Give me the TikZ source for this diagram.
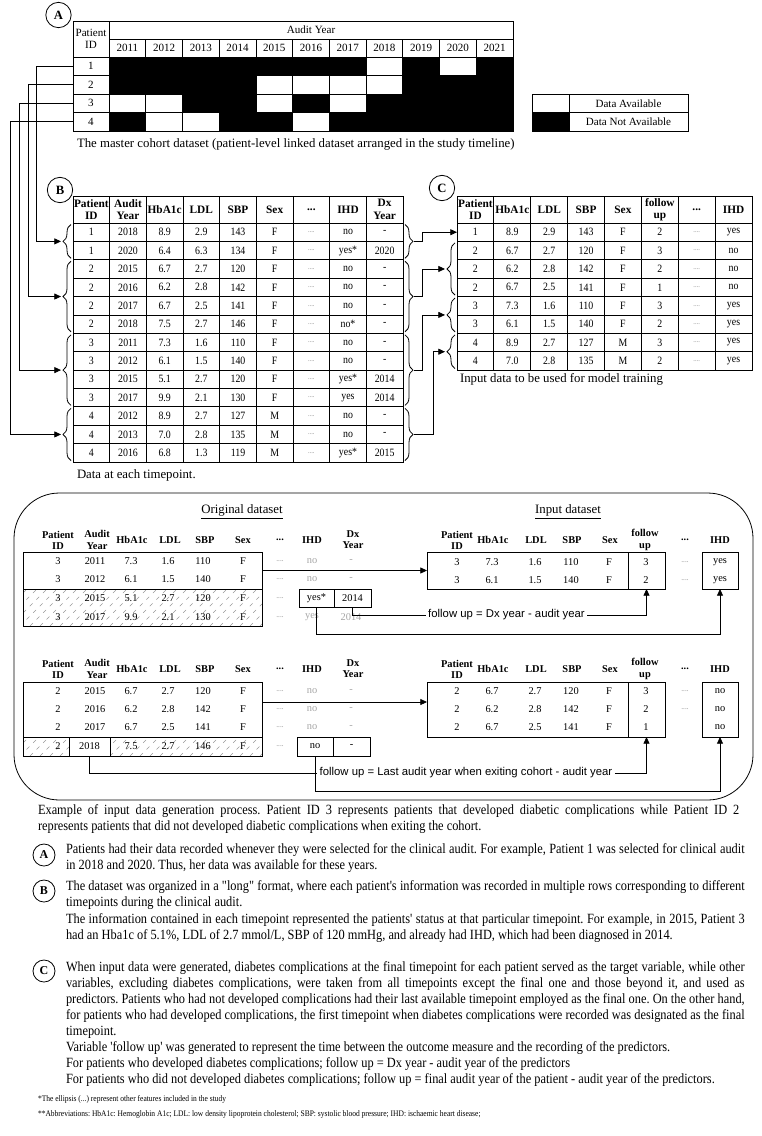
\documentclass[tikz,border=0pt]{standalone}
\usepackage{graphicx}
\usepackage{fontspec}
\setmainfont{Liberation Serif}
\newfontfamily\narrowfont[FakeStretch=0.88]{Liberation Serif}
\newfontfamily\labelsans{Liberation Sans}
\usetikzlibrary{arrows.meta,decorations.pathreplacing,calc}
\newcommand{\bodyfont}{\narrowfont\fontsize{10.55}{12}\selectfont}
\newcommand{\capfont}{\fontsize{9.6}{11}\selectfont}
\newcommand{\atabfont}{\fontsize{8.3}{9}\selectfont}
\newcommand{\tabfont}{\narrowfont\fontsize{8.4}{9}\selectfont}
\newcommand{\tabhead}{\bfseries\fontsize{8.5}{9.3}\selectfont}
\newcommand{\extab}{\fontsize{7.8}{8.5}\selectfont}
\newcommand{\exhead}{\bfseries\fontsize{7.8}{8.4}\selectfont}
\newcommand{\labelfont}{\labelsans\fontsize{8.5}{9}\selectfont}
\newcommand{\threedots}{...}
\newcommand{\gdots}{{\color{gray}\fontsize{5.5}{6}\selectfont....}}
\newcommand{\gtext}[1]{{\color{gray!70}#1}}
\newcommand{\jline}[2]{\sbox0{#2}\ifdim\wd0>#1\relax\resizebox{#1}{\height}{\usebox0}\else\makebox[#1][s]{#2}\fi}
\tikzset{
  every node/.style={inner sep=0pt, outer sep=0pt},
  cellA/.style={draw, line width=0.6pt, minimum width=27.55pt, minimum height=13.875pt, font=\atabfont},
  cellB/.style={draw, line width=0.6pt, minimum width=27.5pt, minimum height=13.79pt, font=\tabfont},
  headB/.style={draw, line width=0.6pt, minimum width=27.5pt, minimum height=20.25pt, font=\tabhead, align=center},
  cellC/.style={draw, line width=0.6pt, minimum width=27.66pt, minimum height=13.79pt, font=\tabfont},
  headC/.style={draw, line width=0.6pt, minimum width=27.66pt, minimum height=20.25pt, font=\tabhead, align=center},
  circ/.style={draw, circle, line width=0.6pt, minimum size=19pt, font=\bfseries\fontsize{9.5}{9.5}\selectfont},
  circs/.style={draw, circle, line width=0.6pt, minimum size=16.5pt, font=\bfseries\fontsize{9}{9}\selectfont},
  conn/.style={line width=0.6pt},
  arr/.style={line width=0.6pt, -{Triangle[length=5pt,width=4.5pt]}},
  brc/.style={decorate, decoration={brace, amplitude=6pt}, line width=0.6pt},
  box/.style={draw, line width=0.6pt},
  tx/.style={font=\extab},
  th/.style={font=\exhead, align=center},
  hatchline/.style={gray!80, line width=0.4pt, dash pattern=on 3pt off 4pt},
  body/.style={anchor=base west, font=\bodyfont},
  foot/.style={anchor=base west, font=\narrowfont\fontsize{6.4}{7}\selectfont},
  flabel/.style={fill=white, inner xsep=2pt, inner ysep=1pt, font=\labelfont}
}
\newcommand{\hatchfill}[4]{%
  \begin{scope}
    \clip (#1,#2) rectangle (#3,#4);
    \foreach \hx in {-40,-30,...,280} \draw[hatchline] (\hx,#4) -- ++(45,-45);
  \end{scope}}
\begin{document}
\frenchspacing
\begin{tikzpicture}[x=0.75pt,y=-0.75pt]
\useasboundingbox (0,0) rectangle (761,1136);
% ================= A =================
\node[circ] (cA) at (58.5,15) {A};
\node[cellA, minimum width=27pt, minimum height=27pt, align=center] (AhP) at (91,39) {Patient\\ID};
\node[cellA, minimum width=303pt, minimum height=13.5pt] (AhY) at (311,30) {Audit Year};
\foreach \yr [count=\i from 0] in {2011,2012,2013,2014,2015,2016,2017,2018,2019,2020,2021}
  \node[cellA, minimum height=13.5pt] (Ay\i) at ({109+36.727*(\i+0.5)},48) {\yr};
\foreach \pat/\avail [count=\r from 0] in {1/{0,0,0,0,0,0,0,1,0,1,0},2/{0,0,0,0,1,1,1,1,0,0,0},3/{1,1,0,0,1,0,1,0,0,0,0},4/{0,1,1,0,0,1,0,0,0,0,0}}{
  \node[cellA, minimum width=27pt] (Aid\pat) at (91,{66.25+18.5*\r}) {\pat};
  \foreach \v [count=\c from 0] in \avail {
    \ifnum\v=1\relax\def\fc{white}\else\def\fc{black}\fi
    \node[cellA, fill=\fc] (Ac\pat-\c) at ({109+36.727*(\c+0.5)},{66.25+18.5*\r}) {};
  }
}
\node[cellA, minimum width=27.75pt] (Lw) at (550.5,103.25) {};
\node[cellA, minimum width=89.25pt] (LwT) at (628.5,103.25) {Data Available};
\node[cellA, minimum width=27.75pt, fill=black] (Lb) at (550.5,121.75) {};
\node[cellA, minimum width=89.25pt] (LbT) at (628.5,121.75) {Data Not Available};
\node[anchor=base west, font=\capfont] (Acap) at (77,147) {The master cohort dataset (patient-level linked dataset arranged in the study timeline)};
% ================= B =================
\node[circ] (cB) at (60,190) {B};
\foreach \h [count=\c from 0] in {Patient\\ID, Audit\\Year, HbA1c, LDL, SBP, Sex, \threedots, IHD, Dx\\Year}
  \node[headB] (Bh\c) at ({73+36.667*(\c+0.5)},209.5) {\h};
\foreach \pid/\yr/\hb/\ld/\sb/\sx/\ih/\dx [count=\k from 0] in {
 1/2018/8.9/2.9/143/F/no/-, 1/2020/6.4/6.3/134/F/yes*/2020,
 2/2015/6.7/2.7/120/F/no/-, 2/2016/6.2/2.8/142/F/no/-, 2/2017/6.7/2.5/141/F/no/-, 2/2018/7.5/2.7/146/F/no*/-,
 3/2011/7.3/1.6/110/F/no/-, 3/2012/6.1/1.5/140/F/no/-, 3/2015/5.1/2.7/120/F/yes*/2014, 3/2017/9.9/2.1/130/F/yes/2014,
 4/2012/8.9/2.7/127/M/no/-, 4/2013/7.0/2.8/135/M/no/-, 4/2016/6.8/1.3/119/M/yes*/2015}{
  \pgfmathsetmacro{\yy}{223+18.385*(\k+0.5)}
  \node[cellB] (B\k-0) at (91.33,\yy) {\pid};
  \node[cellB] (B\k-1) at (128,\yy) {\yr};
  \node[cellB] (B\k-2) at (164.67,\yy) {\hb};
  \node[cellB] (B\k-3) at (201.33,\yy) {\ld};
  \node[cellB] (B\k-4) at (238,\yy) {\sb};
  \node[cellB] (B\k-5) at (274.67,\yy) {\sx};
  \node[cellB] (B\k-6) at (311.33,\yy) {\gdots};
  \node[cellB] (B\k-7) at (348,\yy) {\ih};
  \node[cellB] (B\k-8) at (384.67,\yy) {\dx};
}
\node[anchor=base west, font=\capfont] (Bcap) at (77,478) {Data at each timepoint.};
% braces B left / right
\foreach \g/\yt/\yb in {1/223/259.77, 2/259.77/333.31, 3/333.31/406.85, 4/406.85/462}{
  \draw[brc] (71,\yb-1.5) -- (71,\yt+1.5);
  \draw[brc] (405,\yt+1.5) -- (405,\yb-1.5);
  \coordinate (BL\g) at (61,{(\yt+\yb)/2});
  \coordinate (BR\g) at (414,{(\yt+\yb)/2});
}
% A -> B connectors
\draw[arr] (Aid1.west) -- ++(-37,0) |- (BL1);
\draw[arr] (Aid2.west) -- ++(-45,0) |- (BL2);
\draw[arr] (Aid3.west) -- ++(-54,0) |- (BL3);
\draw[arr] (Aid4.west) -- ++(-63,0) |- (BL4);
% ================= C =================
\node[circ] (cC) at (442,188) {C};
\foreach \h [count=\c from 0] in {Patient\\ID, HbA1c, LDL, SBP, Sex, follow\\up, \threedots, IHD}
  \node[headC] (Ch\c) at ({457+36.875*(\c+0.5)},209.5) {\h};
\foreach \pid/\hb/\ld/\sb/\sx/\fu/\ih [count=\k from 0] in {
 1/8.9/2.9/143/F/2/yes, 2/6.7/2.7/120/F/3/no, 2/6.2/2.8/142/F/2/no, 2/6.7/2.5/141/F/1/no,
 3/7.3/1.6/110/F/3/yes, 3/6.1/1.5/140/F/2/yes, 4/8.9/2.7/127/M/3/yes, 4/7.0/2.8/135/M/2/yes}{
  \pgfmathsetmacro{\yy}{223+18.385*(\k+0.5)}
  \node[cellC] (C\k-0) at (475.44,\yy) {\pid};
  \node[cellC] (C\k-1) at (512.31,\yy) {\hb};
  \node[cellC] (C\k-2) at (549.19,\yy) {\ld};
  \node[cellC] (C\k-3) at (586.06,\yy) {\sb};
  \node[cellC] (C\k-4) at (622.94,\yy) {\sx};
  \node[cellC] (C\k-5) at (659.81,\yy) {\fu};
  \node[cellC] (C\k-6) at (696.69,\yy) {\gdots};
  \node[cellC] (C\k-7) at (733.56,\yy) {\ih};
}
\node[anchor=base west, font=\capfont] (Ccap) at (460,382) {Input data to be used for model training};
\foreach \g/\yt/\yb in {2/241.39/296.54, 3/296.54/333.31, 4/333.31/370.08}{
  \draw[brc] (455,\yb-1.5) -- (455,\yt+1.5);
  \coordinate (CL\g) at (445,{(\yt+\yb)/2});
}
% B -> C connectors
\draw[arr] (BR1) -- ++(8,0) |- (C0-0.west);
\draw[arr] (BR2) -- ++(8,0) |- (CL2);
\draw[arr] (BR3) -- ++(8,0) |- (CL3);
\draw[arr] (BR4) -- ++(19,0) |- (CL4);
% ================= Example box =================
\draw[line width=0.6pt, rounded corners=34pt] (14,493) rectangle (753,800);
\node[font=\capfont] (OrigT) at (242,512) {\underline{Original dataset}};
\node[font=\capfont] (InT) at (568,512) {\underline{Input dataset}};
% --- example 1: original
\foreach \h/\x in {Patient\\ID/58, Audit\\Year/97, HbA1c/132, LDL/170, SBP/205, Sex/243, \threedots/280, IHD/312, Dx\\Year/353}
  \node[th] (O1h\x) at (\x,540) {\h};
\hatchfill{23}{589}{262}{626}
\node[box, minimum width=179.25pt, minimum height=55.5pt] (O1) at (142.5,589) {};
\draw[conn] (O1.west) -- (O1.east);
\foreach \a/\b/\c/\d/\e/\f/\yy/\n in {3/2011/7.3/1.6/110/F/561/1, 3/2012/6.1/1.5/140/F/579/2, 3/2015/5.1/2.7/120/F/598/3, 3/2017/9.9/2.1/130/F/617/4}{
  \node[tx] (O1r\n a) at (58,\yy) {\a};
  \node[tx] (O1r\n b) at (95,\yy) {\b};
  \node[tx] (O1r\n c) at (131,\yy) {\c};
  \node[tx] (O1r\n d) at (168,\yy) {\d};
  \node[tx] (O1r\n e) at (203,\yy) {\e};
  \node[tx] (O1r\n f) at (243,\yy) {\f};
  \node[tx] (O1r\n g) at (280,\yy) {\gdots};
}
\node[tx] (O1r1h) at (312,561) {\gtext{no}};
\node[tx] (O1r1i) at (351,561) {\gtext{-}};
\node[tx] (O1r2h) at (312,579) {\gtext{no}};
\node[tx] (O1r2i) at (351,579) {\gtext{-}};
\node[tx] (O1r4h) at (312,617) {\gtext{yes}};
\node[tx] (O1r4i) at (351,617) {\gtext{2014}};
\node[box, tx, minimum width=26.25pt, minimum height=13.5pt] (Yes1) at (316.5,598) {yes*};
\node[box, tx, minimum width=27.75pt, minimum height=13.5pt] (Dx1) at (352.5,598) {2014};
% --- example 1: input
\foreach \h/\x in {Patient\\ID/457, HbA1c/493, LDL/536, SBP/572, Sex/610, follow\\up/645, \threedots/685, IHD/720}
  \node[th] (I1h\x) at (\x,540) {\h};
\node[box, minimum width=150.75pt, minimum height=27.75pt] (In1) at (527.5,570.5) {};
\node[box, minimum width=27.75pt, minimum height=27.75pt] (Fu1) at (646.5,570.5) {};
\node[box, minimum width=27pt, minimum height=27.75pt] (Ih1) at (720,570.5) {};
\foreach \a/\b/\c/\d/\e/\f/\g/\yy/\n in {3/7.3/1.6/110/F/3/yes/562/1, 3/6.1/1.5/140/F/2/yes/580/2}{
  \node[tx] (I1r\n a) at (457,\yy) {\a};
  \node[tx] (I1r\n b) at (492,\yy) {\b};
  \node[tx] (I1r\n c) at (535,\yy) {\c};
  \node[tx] (I1r\n d) at (571,\yy) {\d};
  \node[tx] (I1r\n e) at (609,\yy) {\e};
  \node[tx] (I1r\n f) at (646,\yy) {\f};
  \node[tx] (I1r\n g) at (685,\yy) {\gdots};
  \node[tx] (I1r\n h) at (720,\yy) {\g};
}
\draw[arr] (In1.west -| O1.east) -- (In1.west);
\node[flabel] (F1) at (506.5,615) {follow up = Dx year - audit year};
\draw[conn] (Dx1.south) |- (F1.west);
\draw[arr] (F1.east) -| (Fu1.south);
\draw[arr] (Yes1.south) -- ++(0,27) -| (Ih1.south);
% --- example 2: original
\foreach \h/\x in {Patient\\ID/58, Audit\\Year/97, HbA1c/132, LDL/170, SBP/205, Sex/243, \threedots/280, IHD/312, Dx\\Year/353}
  \node[th] (O2h\x) at (\x,669) {\h};
\hatchfill{23}{737}{262}{756}
\node[box, minimum width=179.25pt, minimum height=55.5pt] (O2) at (142.5,719) {};
\draw[conn] ($(O2.west)+(0,18)$) -- ($(O2.east)+(0,18)$);
\node[box, tx, fill=white, minimum width=30.75pt, minimum height=14.25pt] (Ay2018) at (89.5,746.5) {2018};
\foreach \a/\b/\c/\d/\e/\yy/\n in {2015/6.7/2.7/120/F/691/1, 2016/6.2/2.8/142/F/709/2, 2017/6.7/2.5/141/F/727/3}{
  \node[tx] (O2r\n a) at (58,\yy) {2};
  \node[tx] (O2r\n b) at (95,\yy) {\a};
  \node[tx] (O2r\n c) at (131,\yy) {\b};
  \node[tx] (O2r\n d) at (168,\yy) {\c};
  \node[tx] (O2r\n e) at (203,\yy) {\d};
  \node[tx] (O2r\n f) at (243,\yy) {\e};
  \node[tx] (O2r\n g) at (280,\yy) {\gdots};
  \node[tx] (O2r\n h) at (312,\yy) {\gtext{no}};
  \node[tx] (O2r\n i) at (351,\yy) {\gtext{-}};
}
\node[tx] (O2r4a) at (58,746) {2};
\node[tx] (O2r4c) at (131,746) {7.5};
\node[tx] (O2r4d) at (168,746) {2.7};
\node[tx] (O2r4e) at (203,746) {146};
\node[tx] (O2r4f) at (243,746) {F};
\node[tx] (O2r4g) at (280,746) {\gdots};
\node[box, tx, minimum width=27pt, minimum height=14.25pt] (No2) at (315,746.5) {no};
\node[box, tx, minimum width=27.75pt, minimum height=14.25pt] (Dash2) at (351.5,746.5) {-};
% --- example 2: input
\foreach \h/\x in {Patient\\ID/457, HbA1c/493, LDL/536, SBP/572, Sex/610, follow\\up/645, \threedots/685, IHD/720}
  \node[th] (I2h\x) at (\x,669) {\h};
\node[box, minimum width=150.75pt, minimum height=41.25pt] (In2) at (527.5,709.5) {};
\node[box, minimum width=27.75pt, minimum height=41.25pt] (Fu2) at (646.5,709.5) {};
\node[box, minimum width=27pt, minimum height=41.25pt] (Ih2) at (720,709.5) {};
\foreach \b/\c/\d/\f/\yy/\n in {6.7/2.7/120/3/691/1, 6.2/2.8/142/2/709/2, 6.7/2.5/141/1/727/3}{
  \node[tx] (I2r\n a) at (457,\yy) {2};
  \node[tx] (I2r\n b) at (492,\yy) {\b};
  \node[tx] (I2r\n c) at (535,\yy) {\c};
  \node[tx] (I2r\n d) at (571,\yy) {\d};
  \node[tx] (I2r\n e) at (609,\yy) {F};
  \node[tx] (I2r\n f) at (646,\yy) {\f};
  \node[tx] (I2r\n h) at (720,\yy) {no};
}
\node[tx] (I2r1g) at (685,691) {\gdots};
\node[tx] (I2r2g) at (685,709) {\gdots};
\coordinate (In2a) at (427,702);
\draw[arr] (In2a -| O2.east) -- (In2a);
\node[flabel] (F2) at (466,773) {follow up = Last audit year when exiting cohort - audit year};
\draw[conn] (Ay2018.south) |- (F2.west);
\draw[arr] (F2.east) -| (Fu2.south);
\draw[arr] (No2.south) -- ++(0,35) -| (Ih2.south);
% ================= Text =================
\node[body] (cap1) at (38,814) {\jline{526pt}{Example of input data generation process. Patient ID 3 represents patients that developed diabetic complications while Patient ID 2}};
\node[body] (cap2) at (38,830) {represents patients that did not developed diabetic complications when exiting the cohort.};
\node[circs] (pA) at (44,855) {A};
\node[body] (tA1) at (66,853) {\jline{509pt}{Patients had their data recorded whenever they were selected for the clinical audit. For example, Patient 1 was selected for clinical audit}};
\node[body] (tA2) at (66,869) {in 2018 and 2020. Thus, her data was available for these years.};
\node[circs] (pB) at (44,891) {B};
\node[body] (tB1) at (66,890) {\jline{509pt}{The dataset was organized in a "long" format, where each patient's information was recorded in multiple rows corresponding to different}};
\node[body] (tB2) at (66,906) {timepoints during the clinical audit.};
\node[body] (tB3) at (66,923) {\jline{509pt}{The information contained in each timepoint represented the patients' status at that particular timepoint. For example, in 2015, Patient 3}};
\node[body] (tB4) at (66,939) {had an Hba1c of 5.1\%, LDL of 2.7 mmol/L, SBP of 120 mmHg, and already had IHD, which had been diagnosed in 2014.};
\node[circs] (pC) at (44,971) {C};
\node[body] (tC1) at (66,971) {\jline{509pt}{When input data were generated, diabetes complications at the final timepoint for each patient served as the target variable, while other}};
\node[body] (tC2) at (66,987) {\jline{509pt}{variables, excluding diabetes complications, were taken from all timepoints except the final one and those beyond it, and used as}};
\node[body] (tC3) at (66,1003) {\jline{509pt}{predictors. Patients who had not developed complications had their last available timepoint employed as the final one. On the other hand,}};
\node[body] (tC4) at (66,1019) {\jline{509pt}{for patients who had developed complications, the first timepoint when diabetes complications were recorded was designated as the final}};
\node[body] (tC5) at (66,1035) {timepoint.};
\node[body] (tC6) at (66,1051) {Variable 'follow up' was generated to represent the time between the outcome measure and the recording of the predictors.};
\node[body] (tC7) at (66,1067) {For patients who developed diabetes complications; follow up = Dx year - audit year of the predictors};
\node[body] (tC8) at (66,1083) {For patients who did not developed diabetes complications; follow up = final audit year of the patient - audit year of the predictors.};
\node[foot] (fn1) at (38,1101) {*The ellipsis (...) represent other features included in the study};
\node[foot] (fn2) at (38,1116) {**Abbreviations: HbA1c: Hemoglobin A1c; LDL: low density lipoprotein cholesterol; SBP: systolic blood pressure; IHD: ischaemic heart disease;};
\end{tikzpicture}
\end{document}
